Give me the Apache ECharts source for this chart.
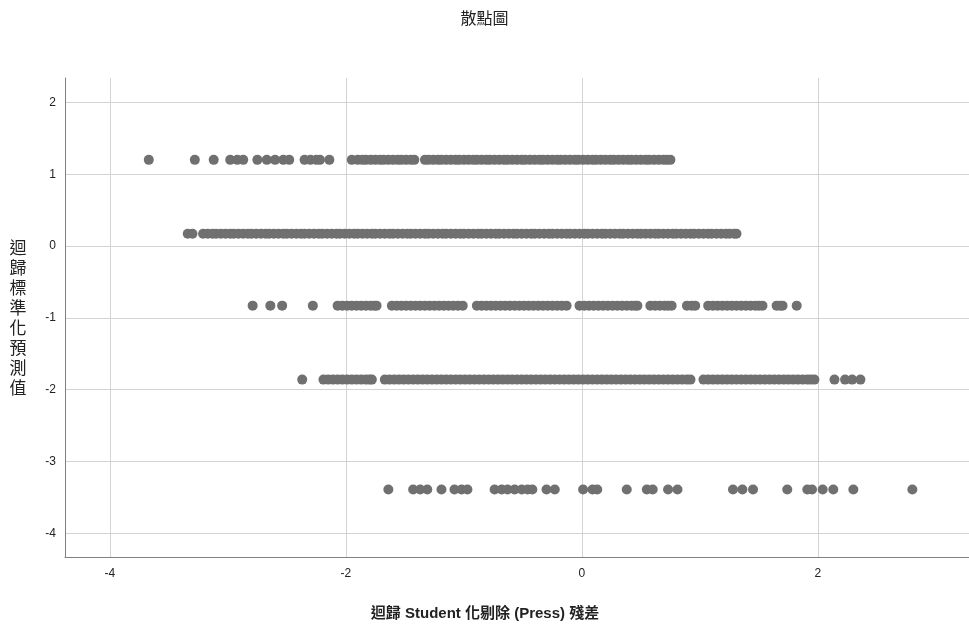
<!DOCTYPE html>
<html>
<head>
<meta charset="utf-8">
<script src="https://cdn.jsdelivr.net/npm/echarts@6/dist/echarts.min.js"></script>
<style>
  html, body { margin: 0; padding: 0; background: #fff; }
  #chart { width: 969px; height: 628px; }
</style>
</head>
<body>
<div id="chart"></div>
<script>
  // 每一列預測值（y），對應下面的殘差（x）
  var yLevels = [1.20, 0.17, -0.83, -1.86, -3.39]

  var rowA = [-3.67, -3.28, -3.12, -2.98, -2.92, -2.87, -2.75, -2.67, -2.60, -2.53, -2.48, -2.35, -2.30, -2.25, -2.22, -2.14, -1.95,
    -1.90, -1.86, -1.83, -1.79, -1.75, -1.71, -1.68, -1.64, -1.60, -1.56, -1.53, -1.49, -1.45, -1.42,
    -1.33, -1.30, -1.26, -1.22, -1.19, -1.15, -1.11, -1.07, -1.04, -1.00, -0.96, -0.92, -0.89, -0.85, -0.81, -0.78, -0.74, -0.70,
    -0.66, -0.63, -0.59, -0.55, -0.51, -0.48, -0.44, -0.40, -0.36, -0.33, -0.29, -0.25, -0.21, -0.18, -0.14, -0.10, -0.06, -0.03,
    0.01, 0.05, 0.09, 0.12, 0.16, 0.20, 0.24, 0.27, 0.31, 0.35, 0.39, 0.42, 0.46, 0.50, 0.54, 0.57, 0.61, 0.65, 0.69, 0.72, 0.75]

  var rowB = [-3.34, -3.30,
    -3.21, -3.17, -3.13, -3.10, -3.06, -3.02, -2.98, -2.95, -2.91, -2.87, -2.83, -2.80, -2.76, -2.72, -2.68, -2.65, -2.61, -2.57,
    -2.53, -2.50, -2.46, -2.42, -2.38, -2.35, -2.31, -2.27, -2.23, -2.20, -2.16, -2.12, -2.08, -2.05, -2.01, -1.97, -1.93, -1.90,
    -1.86, -1.82, -1.78, -1.75, -1.71, -1.67, -1.63, -1.60, -1.56, -1.52, -1.48, -1.45, -1.41, -1.37, -1.33, -1.30, -1.26, -1.22,
    -1.18, -1.15, -1.11, -1.07, -1.03, -1.00, -0.96, -0.92, -0.88, -0.85, -0.81, -0.77, -0.73, -0.70, -0.66, -0.62, -0.58, -0.55,
    -0.51, -0.47, -0.43, -0.40, -0.36, -0.32, -0.28, -0.25, -0.21, -0.17, -0.13, -0.10, -0.06, -0.02, 0.02, 0.05, 0.09, 0.13,
    0.17, 0.20, 0.24, 0.28, 0.32, 0.35, 0.39, 0.43, 0.47, 0.50, 0.54, 0.58, 0.62, 0.65, 0.69, 0.73, 0.77, 0.80, 0.84, 0.88,
    0.92, 0.95, 0.99, 1.03, 1.07, 1.10, 1.14, 1.18, 1.22, 1.25, 1.29, 1.31]

  var rowC = [-2.79, -2.64, -2.54, -2.28,
    -2.07, -2.03, -1.99, -1.95, -1.91, -1.87, -1.83, -1.79, -1.76, -1.74,
    -1.61, -1.57, -1.53, -1.49, -1.45, -1.41, -1.37, -1.33, -1.29, -1.25, -1.21, -1.17, -1.13, -1.09, -1.05, -1.01,
    -0.89, -0.85, -0.81, -0.77, -0.73, -0.69, -0.65, -0.61, -0.57, -0.53, -0.49, -0.45, -0.41, -0.37, -0.33, -0.29, -0.25,
    -0.21, -0.17, -0.13,
    -0.02, 0.02, 0.06, 0.10, 0.14, 0.18, 0.22, 0.26, 0.30, 0.34, 0.38, 0.42, 0.45, 0.47,
    0.58, 0.62, 0.66, 0.70, 0.73, 0.76,
    0.89, 0.93, 0.96,
    1.07, 1.11, 1.15, 1.19, 1.23, 1.27, 1.31, 1.35, 1.39, 1.43, 1.47, 1.50, 1.53,
    1.65, 1.68, 1.70, 1.82]

  var rowD = [-2.37,
    -2.19, -2.15, -2.11, -2.07, -2.03, -1.99, -1.95, -1.91, -1.87, -1.83, -1.80, -1.78,
    -1.67, -1.63, -1.59, -1.55, -1.51, -1.47, -1.43, -1.39, -1.35, -1.31, -1.27, -1.23, -1.19, -1.15, -1.11, -1.07, -1.03,
    -0.99, -0.95, -0.91, -0.87, -0.83, -0.79, -0.75, -0.71, -0.67, -0.63, -0.59, -0.55, -0.51, -0.47, -0.43, -0.39, -0.35,
    -0.31, -0.27, -0.23, -0.19, -0.15, -0.11, -0.07, -0.03, 0.01, 0.05, 0.09, 0.13, 0.17, 0.21, 0.25, 0.29, 0.33, 0.37,
    0.41, 0.45, 0.49, 0.53, 0.57, 0.61, 0.65, 0.69, 0.73, 0.77, 0.81, 0.85, 0.89, 0.92,
    1.03, 1.07, 1.11, 1.15, 1.19, 1.23, 1.27, 1.31, 1.35, 1.39, 1.43, 1.47, 1.51, 1.55, 1.59, 1.63, 1.67, 1.71, 1.75,
    1.79, 1.83, 1.87, 1.91, 1.94, 1.97,
    2.14, 2.23, 2.29, 2.36]

  var rowE = [-1.64, -1.43, -1.37, -1.31, -1.19, -1.08, -1.02, -0.97, -0.74, -0.68, -0.63, -0.57, -0.51, -0.46, -0.42,
    -0.30, -0.23, 0.01, 0.09, 0.13, 0.38, 0.55, 0.60, 0.73, 0.81, 1.28, 1.36, 1.45, 1.74, 1.91, 1.95, 2.04, 2.13, 2.30, 2.80]

  var rows = [rowA, rowB, rowC, rowD, rowE]

  function getPoints () {
    var pts = []
    for (var i = 0; i < rows.length; i++) {
      for (var j = 0; j < rows[i].length; j++) {
        pts.push([rows[i][j], yLevels[i]])
      }
    }
    return pts
  }

  var latin = "'Liberation Sans', Arial, 'Noto Sans CJK TC', sans-serif"

  var myChart = echarts.init(document.getElementById('chart'))
  var option = {
    animation: false,
    title: {
      text: '散點圖',
      left: 'center',
      top: 5,
      textStyle: {
        fontFamily: "'Noto Sans CJK TC', sans-serif",
        fontSize: 16,
        fontWeight: 'normal',
        color: '#222',
      },
    },
    grid: {
      left: 65,
      right: 0,
      top: 78,
      bottom: 71,
    },
    xAxis: {
      type: 'value',
      min: -4.38,
      max: 3.28,
      minInterval: 2,
      maxInterval: 2,
      name: '迴歸 Student 化剔除 (Press) 殘差',
      nameLocation: 'middle',
      nameGap: 49,
      nameTextStyle: {
        fontFamily: latin,
        fontSize: 15,
        fontWeight: 'bold',
        color: '#222',
        padding: [0, 64, 0, 0],
      },
      axisLine: { onZero: false, lineStyle: { color: '#808080' } },
      axisTick: { show: false },
      axisLabel: {
        showMinLabel: false,
        showMaxLabel: false,
        margin: 11,
        fontFamily: latin,
        fontSize: 12,
        color: '#222',
      },
      splitLine: {
        showMinLine: false,
        showMaxLine: false,
        lineStyle: { color: '#d3d3d3' },
      },
    },
    yAxis: {
      type: 'value',
      min: -4.33,
      max: 2.34,
      minInterval: 1,
      maxInterval: 1,
      name: '迴\n歸\n標\n準\n化\n預\n測\n值',
      nameLocation: 'middle',
      nameRotate: 0,
      nameGap: 47,
      nameTextStyle: {
        fontFamily: "'Noto Sans CJK TC', sans-serif",
        fontSize: 17,
        lineHeight: 20,
        color: '#222',
        align: 'center',
        verticalAlign: 'middle',
      },
      axisLine: { show: true, onZero: false, lineStyle: { color: '#808080' } },
      axisTick: { show: false },
      axisLabel: {
        showMinLabel: false,
        showMaxLabel: false,
        margin: 9,
        fontFamily: latin,
        fontSize: 12,
        color: '#222',
      },
      splitLine: {
        showMinLine: false,
        showMaxLine: false,
        lineStyle: { color: '#d3d3d3' },
      },
    },
    series: [{
      type: 'scatter',
      symbolSize: 10,
      itemStyle: { color: '#707070', opacity: 1 },
      data: getPoints(),
    }],
  }
  myChart.setOption(option)
</script>
</body>
</html>
